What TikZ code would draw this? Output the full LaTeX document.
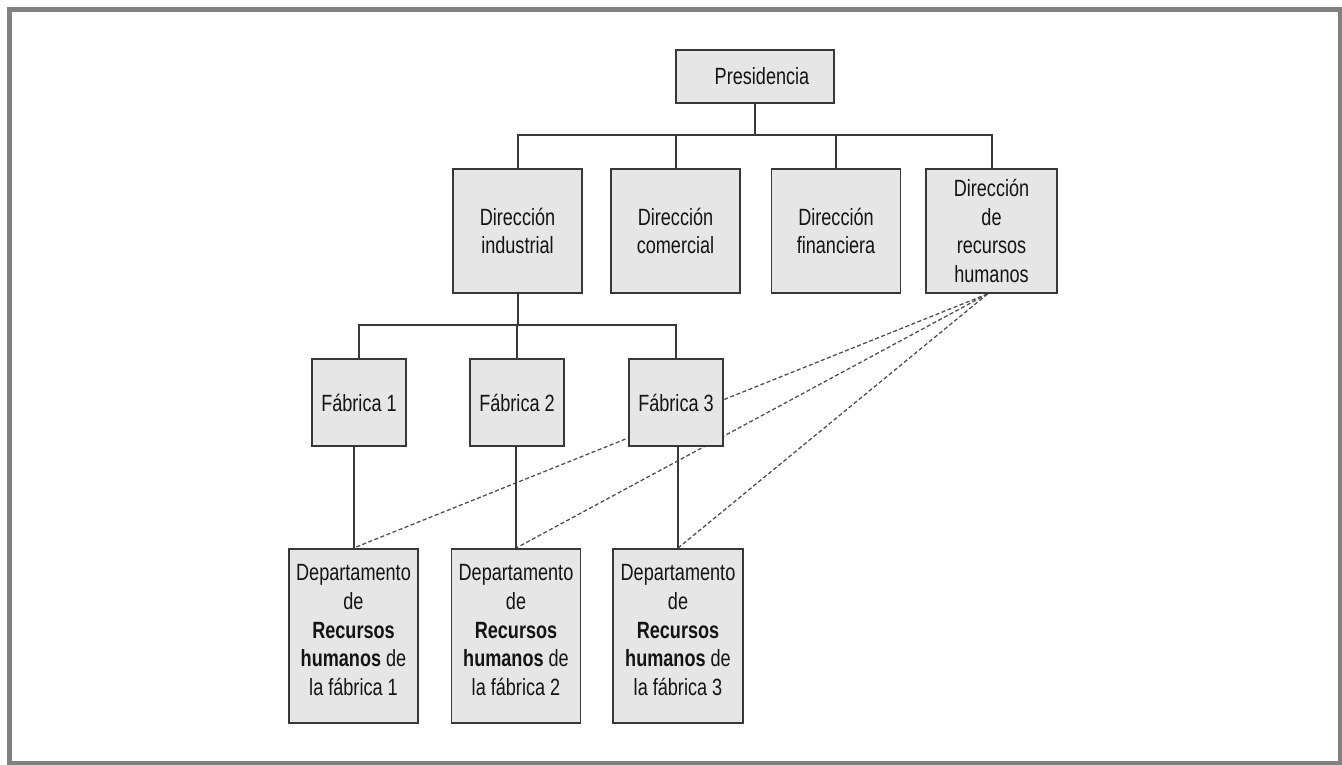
\documentclass[tikz,border=0pt]{standalone}
\usepackage{fontspec}
\setmainfont{Liberation Sans}[FakeStretch=0.77]
\usetikzlibrary{backgrounds}
\definecolor{boxfill}{HTML}{E6E6E6}
\definecolor{edge}{HTML}{383838}
\definecolor{framegray}{HTML}{808080}
\definecolor{ink}{HTML}{141414}
\definecolor{dashgray}{HTML}{505050}

\begin{document}
\begin{tikzpicture}[x=1pt,y=-1pt,
  unit/.style={draw=edge, line width=1.9pt, fill=boxfill, text=ink,
    inner sep=0pt, align=center, font=\fontsize{23.5}{28.8}\selectfont},
  top unit/.style={unit, minimum width=129pt, minimum height=124pt},
  plant/.style={unit, minimum width=94pt, minimum height=87pt},
  dept/.style={unit, minimum width=129pt, minimum height=174pt},
  link/.style={draw=edge, line width=2pt},
  rhlink/.style={draw=dashgray, line width=1.3pt, dash pattern=on 4pt off 2.5pt}
]
\useasboundingbox (0,0) rectangle (1342,764);
\draw[framegray, line width=4.5pt] (9.5,9.5) rectangle (1340.5,763.5);

% presidency
\node[unit, minimum width=158pt, minimum height=53pt] (pres) at (755,76.5)
  {\hspace*{14pt}Presidencia};

% directorates
\node[top unit] (d1) at (517.5,231) {Dirección\\industrial};
\node[top unit] (d2) at (675.5,231) {Dirección\\comercial};
\node[top unit] (d3) at (836,231) {Dirección\\financiera};
\node[top unit, minimum width=131pt] (d4) at (991.5,231)
  {Dirección\\de\\recursos\\humanos};

% factories
\node[plant] (f1) at (359,402.5) {Fábrica 1};
\node[plant] (f2) at (517,402.5) {Fábrica 2};
\node[plant] (f3) at (676,402.5) {Fábrica 3};

% HR departments of the factories
\node[dept] (dep1) at (353.5,636)
  {Departamento\\de\\\textbf{Recursos}\\\textbf{humanos} de\\la fábrica 1\rule[-12pt]{0pt}{12pt}};
\node[dept] (dep2) at (516,636)
  {Departamento\\de\\\textbf{Recursos}\\\textbf{humanos} de\\la fábrica 2\rule[-12pt]{0pt}{12pt}};
\node[dept, minimum width=130pt] (dep3) at (678,636)
  {Departamento\\de\\\textbf{Recursos}\\\textbf{humanos} de\\la fábrica 3\rule[-12pt]{0pt}{12pt}};

% hierarchy lines
\coordinate (busA) at (755,134.5);
\draw[link] (pres.south) -- (busA);
\draw[link] (d1.north) -- (d1.north |- busA) -- (d4.north |- busA) -- (d4.north);
\draw[link] (d2.north) -- (d2.north |- busA);
\draw[link] (d3.north) -- (d3.north |- busA);

\coordinate (busB) at (517,325);
\draw[link] (d1.south) -- (d1.south |- busB);
\draw[link] (f1.north) -- (f1.north |- busB) -- (f3.north |- busB) -- (f3.north);
\draw[link] (f2.north) -- (f2.north |- busB);

\draw[link] (dep1.north) -- (dep1.north |- f1.south);
\draw[link] (dep2.north) -- (dep2.north |- f2.south);
\draw[link] (dep3.north) -- (dep3.north |- f3.south);

% functional links from HR directorate, running behind the boxes
\begin{scope}[on background layer]
  \coordinate (rh) at ([xshift=-4pt]d4.south);
  \draw[rhlink] (rh) -- (dep1.north);
  \draw[rhlink] (rh) -- (dep2.north);
  \draw[rhlink] (rh) -- (dep3.north);
\end{scope}
\end{tikzpicture}
\end{document}
